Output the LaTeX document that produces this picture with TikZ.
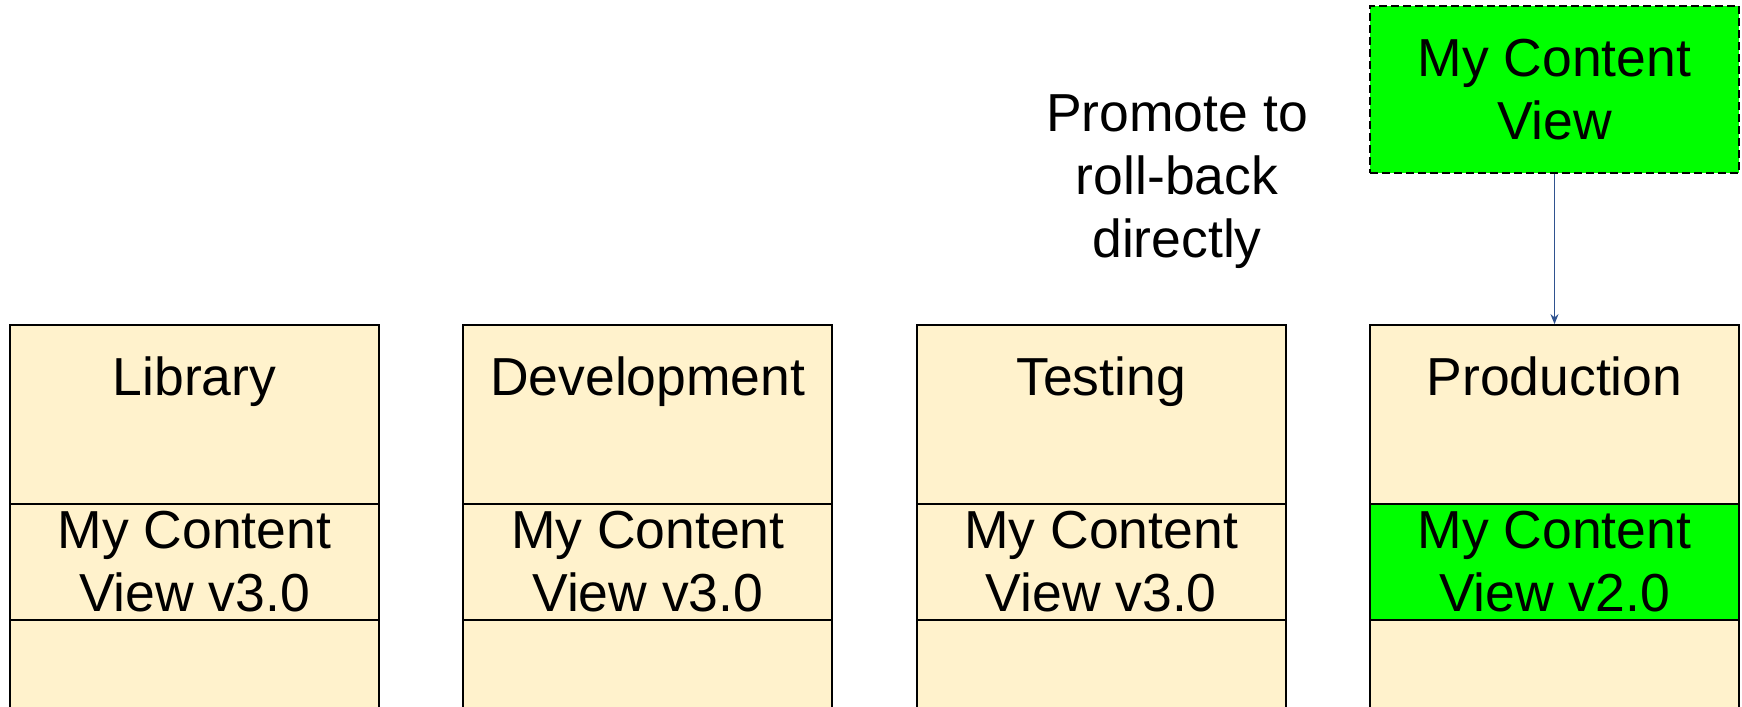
\documentclass[tikz,border=0pt]{standalone}
\usepackage{fontspec}
\setmainfont{Liberation Sans}
\usetikzlibrary{arrows.meta}
\definecolor{cream}{HTML}{FFF2CC}
\definecolor{vgreen}{HTML}{00FF00}
\definecolor{arrowblue}{HTML}{2F528F}
\tikzset{
  lbl/.style={font=\fontsize{21.4}{25.2}\selectfont, align=center, inner sep=0pt},
  envbox/.style={draw=black, line width=0.7pt, fill=cream, minimum width=147.6pt, minimum height=158pt, inner sep=0pt},
  band/.style={draw=black, line width=0.7pt, fill=#1, minimum width=147.6pt, minimum height=46.4pt, inner sep=0pt, lbl},
  band/.default=cream,
  cvbox/.style={draw=black, line width=0.7pt, dash pattern=on 3.2pt off 1.6pt, fill=vgreen, minimum width=147.6pt, minimum height=66.8pt, inner sep=0pt, lbl},
  title/.style={lbl, anchor=base},
  promo/.style={-{Stealth[length=4pt,width=3.2pt]}, draw=arrowblue, line width=0.6pt}
}
\begin{document}
\begin{tikzpicture}[x=0.4pt, y=-0.4pt]
\useasboundingbox (0,0) rectangle (1742,707);
\clip (0,0) rectangle (1742,707);
% environment boxes
\node[envbox] (lib) at (194.5,522.5) {};
\node[envbox] (dev) at (647.8,522.5) {};
\node[envbox] (test) at (1101.2,522.5) {};
\node[envbox] (prod) at (1554.5,522.5) {};
% titles
\node[title] (libt) at (194.5,395) {Library};
\node[title] (devt) at (647.8,395) {Development};
\node[title] (testt) at (1101.2,395) {Testing};
\node[title] (prodt) at (1554.5,395) {Production};
% content view bands
\node[band] (libcv) at (194.5,562) {My Content\\View v3.0};
\node[band] (devcv) at (647.8,562) {My Content\\View v3.0};
\node[band] (testcv) at (1101.2,562) {My Content\\View v3.0};
\node[band=vgreen] (prodcv) at (1554.5,562) {My Content\\View v2.0};
% promoted content view
\node[cvbox] (cv) at (1554.5,89.5) {My Content\\View};
\node[lbl] (note) at (1177,181.5) {Promote to\\roll-back\\directly};
\draw[promo] (cv.south) -- (prod.north);
\end{tikzpicture}
\end{document}
